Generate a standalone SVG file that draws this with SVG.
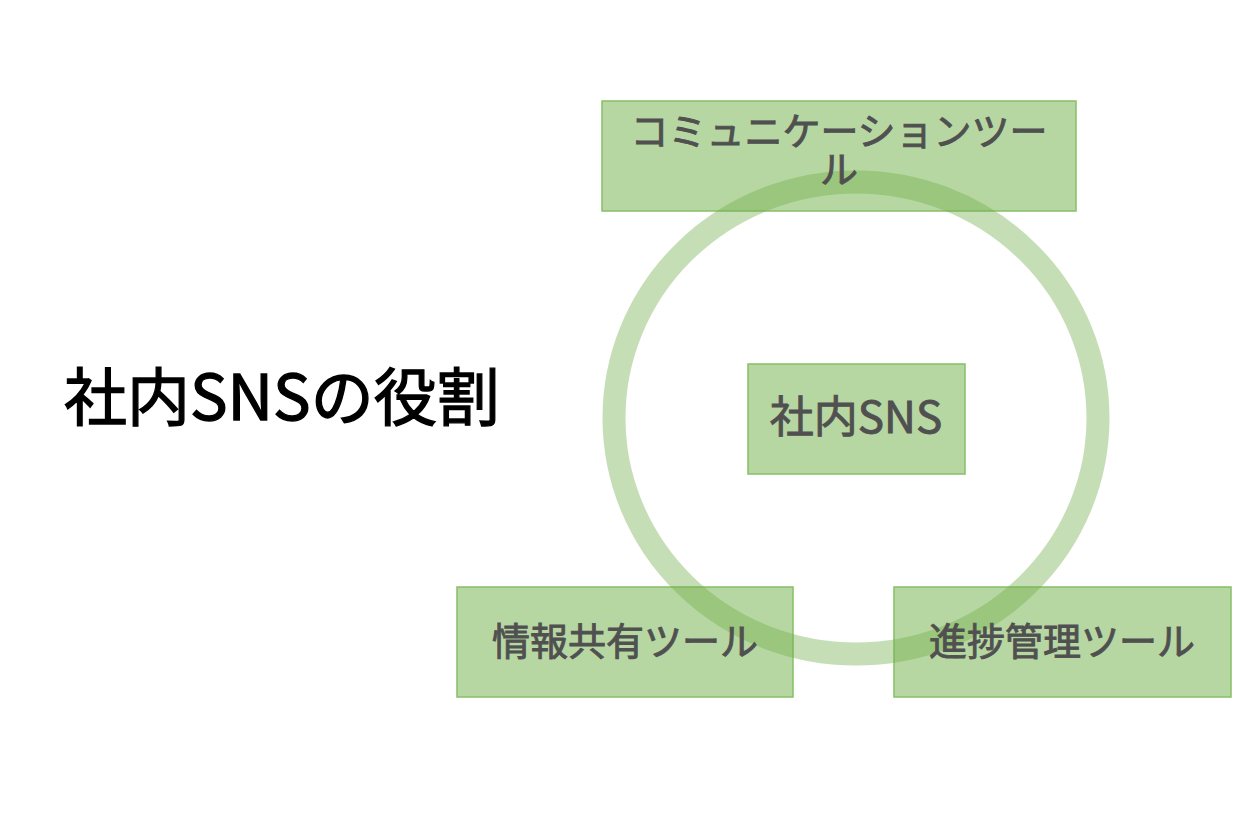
<svg xmlns="http://www.w3.org/2000/svg" width="1260" height="840" viewBox="0 0 1260 840">
<style>
.box{fill:#b6d7a2;stroke:#86bf66;stroke-width:1.5}
.lbl{font-family:"Noto Sans CJK JP","Noto Sans",sans-serif;font-size:38px;font-weight:normal;fill:#505050;stroke:#505050;stroke-width:0.9;text-anchor:middle}
.title{font-family:"Noto Sans CJK JP","Noto Sans",sans-serif;font-size:63px;font-weight:normal;fill:#000;stroke:#000;stroke-width:1.3}
</style>
<rect width="1260" height="840" fill="#fff"/>
<g id="title"><text class="title" x="64" y="420">社内SNSの役割</text></g>
<g id="node-comm"><rect class="box" x="602" y="101" width="474" height="110"/></g>
<g id="node-center"><rect class="box" x="748" y="364" width="217" height="110"/></g>
<g id="node-info"><rect class="box" x="457" y="587" width="336" height="110"/></g>
<g id="node-prog"><rect class="box" x="894" y="587" width="337" height="110"/></g>
<g id="connectors"><ellipse cx="856" cy="418" rx="242" ry="236" fill="none" stroke="#70ad47" stroke-opacity="0.4" stroke-width="23"/></g>
<g id="labels">
<text class="lbl" x="839" y="145">コミュニケーションツー</text>
<text class="lbl" x="839" y="183">ル</text>
<text class="lbl" x="856" y="433" style="font-size:44px">社内SNS</text>
<text class="lbl" x="625" y="655">情報共有ツール</text>
<text class="lbl" x="1062" y="655">進捗管理ツール</text>
</g>
</svg>
